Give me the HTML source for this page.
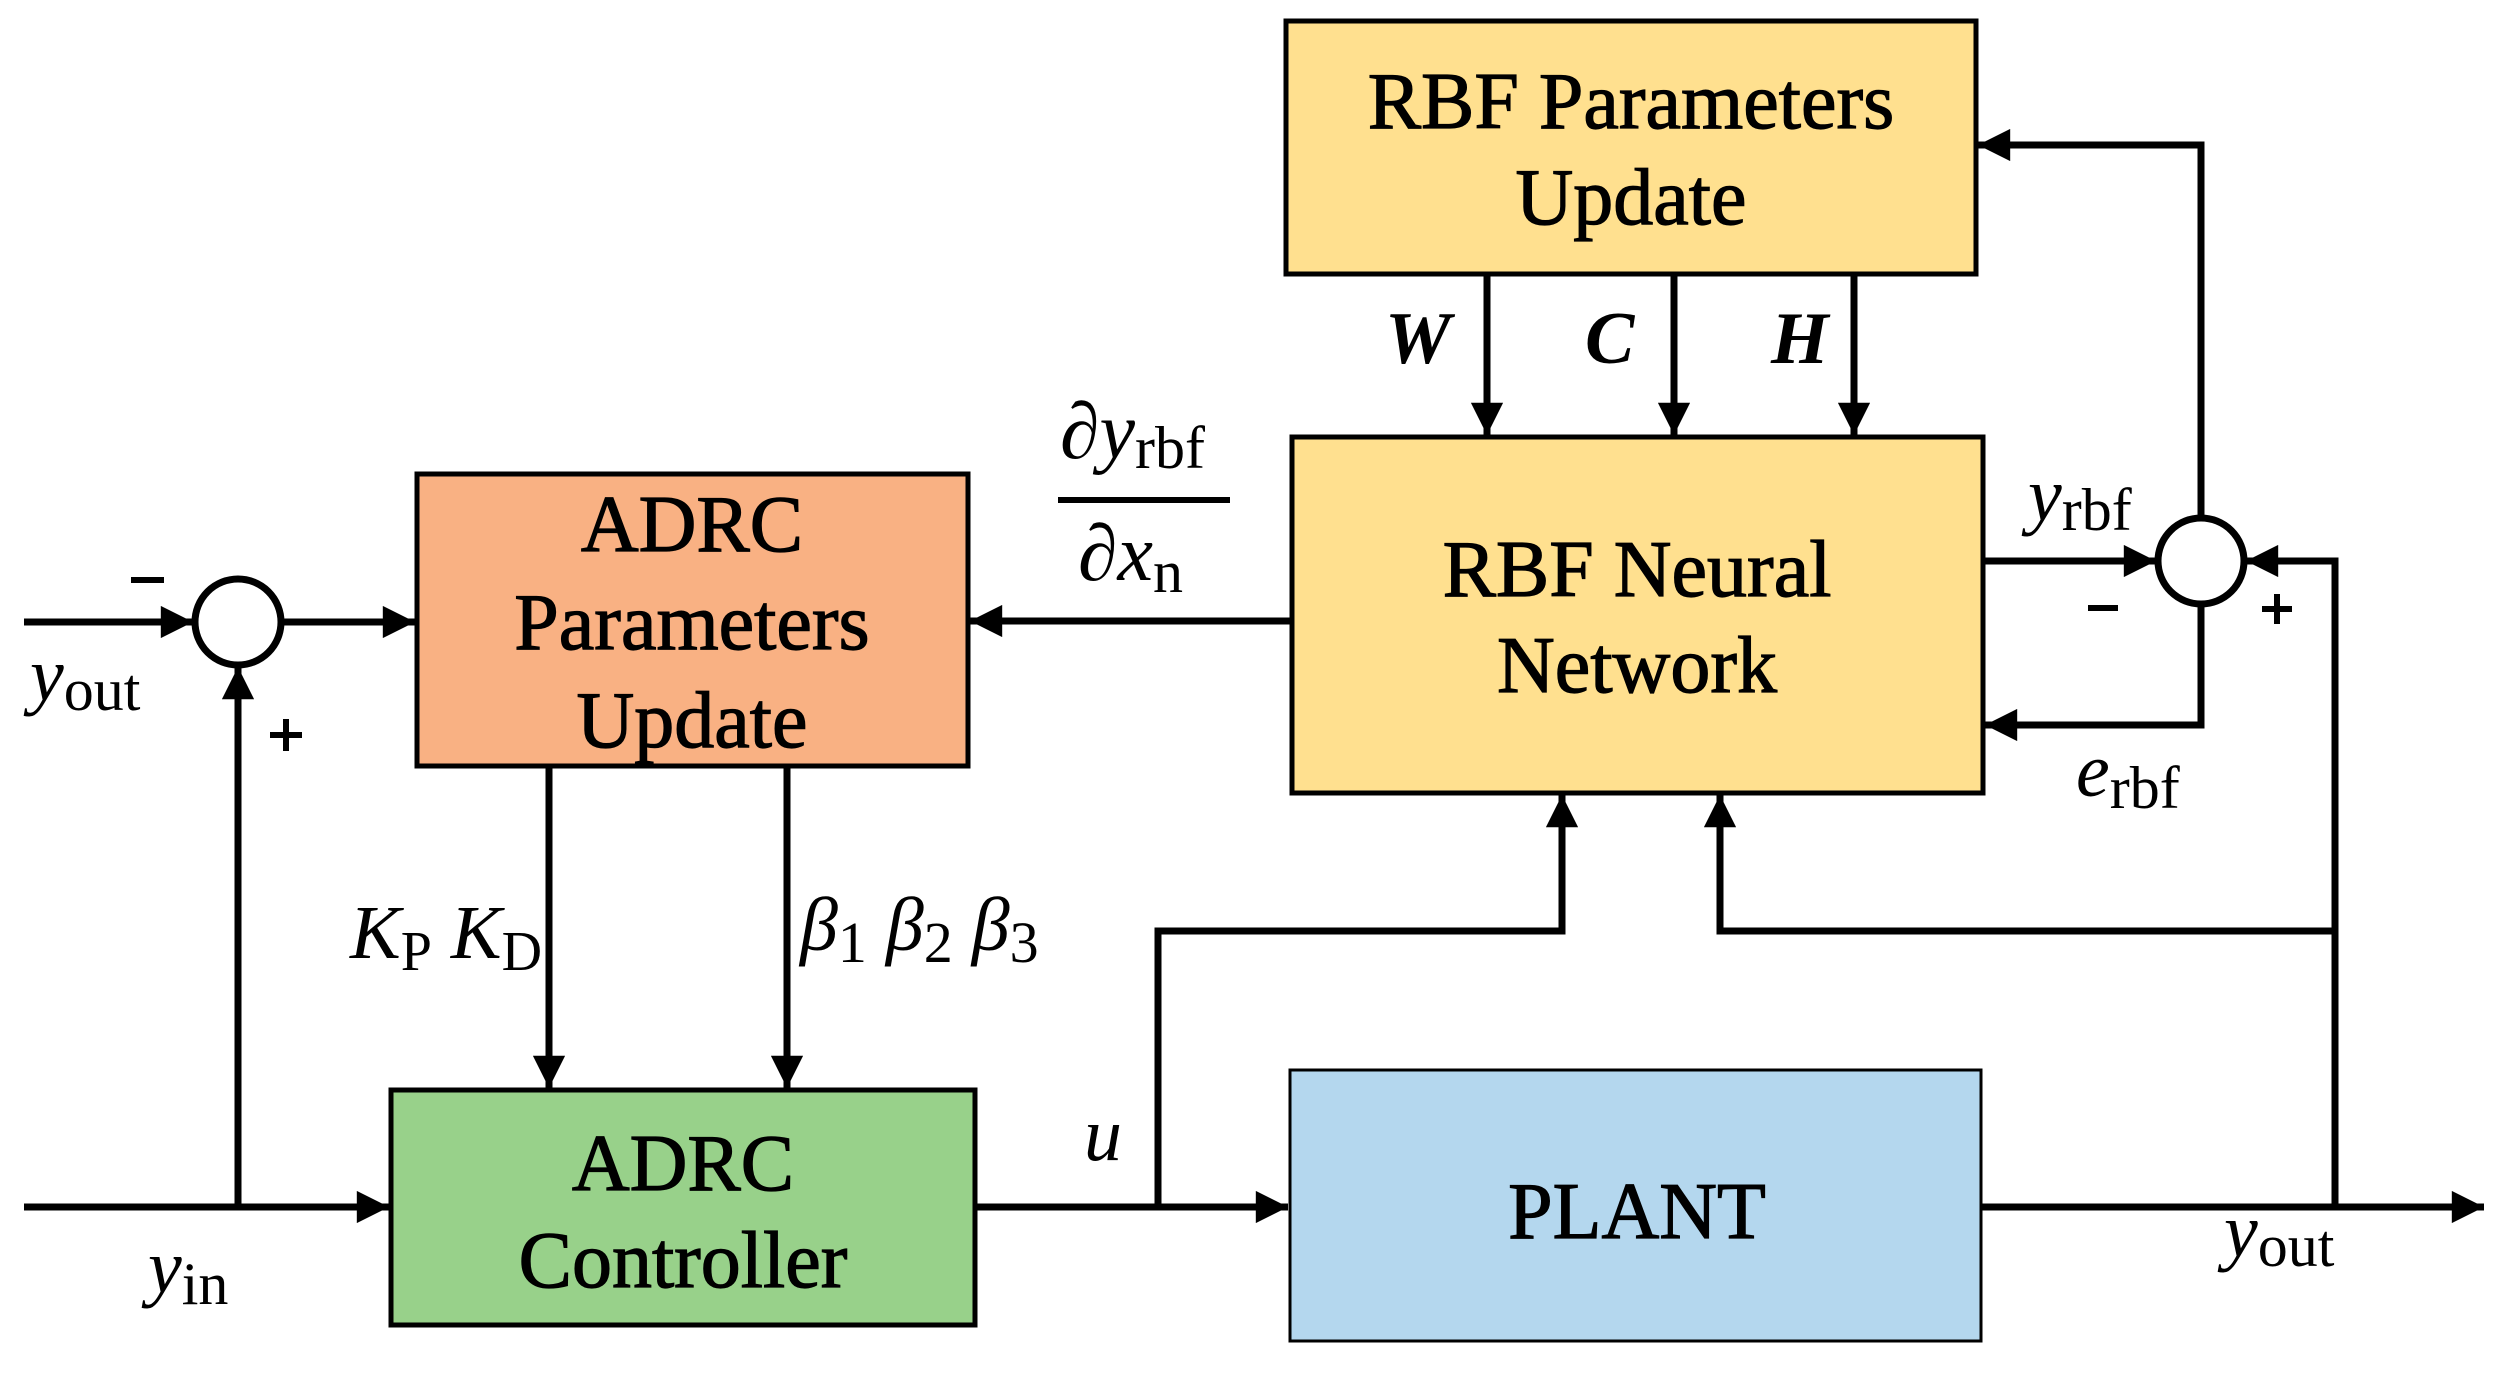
<!DOCTYPE html>
<html><head><meta charset="utf-8"><style>
html,body{margin:0;padding:0;background:#fff;}
svg{display:block;}
text{font-family:"Liberation Serif",serif;fill:#000;}
.bx{font-size:80px;text-anchor:middle;stroke:#000;stroke-width:1.2px;}
.m{font-size:76px;}
.i{font-style:italic;}
</style></head><body>
<svg width="2497" height="1375" viewBox="0 0 2497 1375" xmlns="http://www.w3.org/2000/svg">
<defs>
<marker id="a" viewBox="0 0 10 10" refX="10" refY="5" markerWidth="6.2" markerHeight="4.6" markerUnits="strokeWidth" orient="auto">
<path d="M0,0 L10,5 L0,10 z" fill="#000"/></marker>
</defs>
<rect x="1286" y="21" width="690" height="253" fill="#FFE08F" stroke="#000" stroke-width="5"/>
<rect x="1292" y="437" width="691" height="356" fill="#FFE08F" stroke="#000" stroke-width="5"/>
<rect x="417" y="474" width="551" height="292" fill="#F9B183" stroke="#000" stroke-width="5"/>
<rect x="391" y="1090" width="584" height="235" fill="#98D18A" stroke="#000" stroke-width="5"/>
<rect x="1290" y="1070" width="691" height="271" fill="#B4D7EE" stroke="#000" stroke-width="3"/>

<text class="bx" x="1631" y="128">RBF Parameters</text>
<text class="bx" x="1631" y="224">Update</text>
<text class="bx" x="1637" y="596">RBF Neural</text>
<text class="bx" x="1637" y="692">Network</text>
<text class="bx" x="692" y="551">ADRC</text>
<text class="bx" x="692" y="649">Parameters</text>
<text class="bx" x="692" y="747">Update</text>
<text class="bx" x="683" y="1190">ADRC</text>
<text class="bx" x="683" y="1287">Controller</text>
<text class="bx" x="1637" y="1238">PLANT</text>

<g stroke="#000" stroke-width="7" fill="none">
<circle cx="238" cy="622" r="43"/>
<circle cx="2201" cy="561" r="43"/>
<line x1="24" y1="622" x2="193" y2="622" marker-end="url(#a)"/>
<line x1="281" y1="622" x2="415" y2="622" marker-end="url(#a)"/>
<line x1="24" y1="1207" x2="389" y2="1207" marker-end="url(#a)"/>
<line x1="238" y1="1207" x2="238" y2="667" marker-end="url(#a)"/>
<line x1="549" y1="766" x2="549" y2="1088" marker-end="url(#a)"/>
<line x1="787" y1="766" x2="787" y2="1088" marker-end="url(#a)"/>
<line x1="975" y1="1207" x2="1288" y2="1207" marker-end="url(#a)"/>
<polyline points="1158,1207 1158,931 1562,931 1562,795" marker-end="url(#a)"/>
<line x1="1981" y1="1207" x2="2484" y2="1207" marker-end="url(#a)"/>
<polyline points="2335,1207 2335,561 2246,561" marker-end="url(#a)"/>
<polyline points="2332,931 1720,931 1720,795" marker-end="url(#a)"/>
<line x1="1983" y1="561" x2="2156" y2="561" marker-end="url(#a)"/>
<polyline points="2201,516 2201,145 1978,145" marker-end="url(#a)"/>
<polyline points="2201,605 2201,725 1985,725" marker-end="url(#a)"/>
<line x1="1292" y1="621" x2="970" y2="621" marker-end="url(#a)"/>
<line x1="1487" y1="274" x2="1487" y2="435" marker-end="url(#a)"/>
<line x1="1674" y1="274" x2="1674" y2="435" marker-end="url(#a)"/>
<line x1="1854" y1="274" x2="1854" y2="435" marker-end="url(#a)"/>
<line x1="1058" y1="500" x2="1230" y2="500" stroke-width="6"/>
</g>

<g stroke="#000" stroke-width="6">
<line x1="131" y1="580" x2="164" y2="580"/>
<line x1="270" y1="735" x2="302" y2="735"/><line x1="286" y1="719" x2="286" y2="751"/>
<line x1="2088" y1="608" x2="2118" y2="608"/>
<line x1="2262" y1="609" x2="2292" y2="609"/><line x1="2277" y1="594" x2="2277" y2="624"/>
</g>

<text class="m" x="30" y="700"><tspan class="i">y</tspan><tspan font-size="60" dy="10">out</tspan></text>
<text class="m" x="148" y="1292"><tspan class="i">y</tspan><tspan font-size="60" dy="12">in</tspan></text>
<text class="m" x="350" y="958"><tspan class="i">K</tspan><tspan font-size="56" dy="12">P</tspan><tspan class="i" dy="-12"> K</tspan><tspan font-size="56" dy="12">D</tspan></text>
<text class="m" x="800" y="950"><tspan class="i">β</tspan><tspan font-size="58" dy="12">1</tspan><tspan class="i" dy="-12">   β</tspan><tspan font-size="58" dy="12">2</tspan><tspan class="i" dy="-12">   β</tspan><tspan font-size="58" dy="12">3</tspan></text>
<text class="m i" x="1084" y="1160">u</text>
<text x="1060" y="458" font-size="80"><tspan class="i">∂y</tspan><tspan font-size="60" dy="10">rbf</tspan></text>
<text x="1078" y="580" font-size="80"><tspan class="i">∂x</tspan><tspan font-size="60" dy="12">n</tspan></text>
<text x="1385" y="363" font-size="74" font-weight="bold" font-style="italic">W</text>
<text x="1585" y="363" font-size="74" font-weight="bold" font-style="italic">C</text>
<text x="1771" y="363" font-size="74" font-weight="bold" font-style="italic">H</text>
<text class="m" x="2028" y="520"><tspan class="i">y</tspan><tspan font-size="60" dy="10">rbf</tspan></text>
<text class="m" x="2076" y="796"><tspan class="i">e</tspan><tspan font-size="60" dy="12">rbf</tspan></text>
<text class="m" x="2224" y="1256"><tspan class="i">y</tspan><tspan font-size="60" dy="10">out</tspan></text>
</svg>
</body></html>
